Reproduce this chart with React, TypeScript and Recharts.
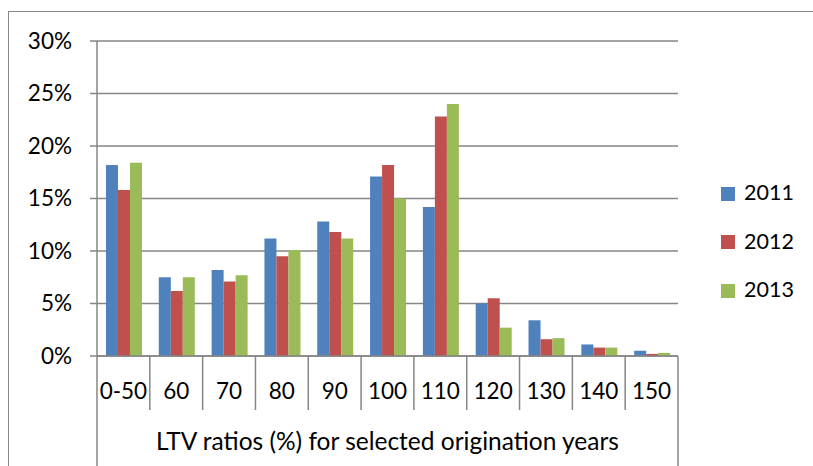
import React from 'react';
import { BarChart, Bar, XAxis, YAxis, CartesianGrid, Legend } from 'recharts';

const categories = ['0-50', '60', '70', '80', '90', '100', '110', '120', '130', '140', '150'];
const series2011 = [18.2, 7.5, 8.2, 11.2, 12.8, 17.1, 14.2, 5.0, 3.4, 1.1, 0.5];
const series2012 = [15.8, 6.2, 7.1, 9.5, 11.8, 18.2, 22.8, 5.5, 1.6, 0.8, 0.2];
const series2013 = [18.4, 7.5, 7.7, 10.1, 11.2, 15.0, 24.0, 2.7, 1.7, 0.8, 0.3];
const yTicks = [0, 5, 10, 15, 20, 25, 30];
const seriesNames = ['2011', '2012', '2013'];
const seriesKeys = ['s2011', 's2012', 's2013'];
const colors = ['#4F81BD', '#C0504D', '#9BBB59'];
const axisTitle = 'LTV ratios (%) for selected origination years';

const FONT = 'Lato, "Open Sans", sans-serif';
const GRID = '#868686';
const FS = 22.5;
const TITLE_FS = 24.5;
const LEGEND_FS = 21.5;

const data = categories.map((c, i) => ({
  cat: c,
  s2011: series2011[i],
  s2012: series2012[i],
  s2013: series2013[i],
}));

const CategoryTick = (props: any) => {
  const { x, y, payload, index } = props;
  const half = payload && typeof payload.offset === 'number' && payload.offset > 0 ? payload.offset : 26.4;
  const isFirst = index === 0;
  const isLast = index === categories.length - 1;
  return (
    <g>
      <line x1={x - half} y1={y} x2={x - half} y2={y + (isFirst ? 130 : 54)} stroke={GRID} strokeWidth={1.5} />
      {isLast && <line x1={x + half} y1={y} x2={x + half} y2={y + 130} stroke={GRID} strokeWidth={1.5} />}
      <text x={x} y={y + 43} textAnchor="middle" fill="#000" fontSize={FS} fontFamily={FONT}>
        {payload.value}
      </text>
    </g>
  );
};

const renderLegend = () => (
  <div style={{ fontFamily: FONT, fontSize: LEGEND_FS, color: '#000' }}>
    {seriesNames.map((n, i) => (
      <div key={n} style={{ display: 'flex', alignItems: 'center', height: 48.5 }}>
        <span style={{ width: 14, height: 14, background: colors[i], marginRight: 9, display: 'inline-block', marginTop: 3 }} />
        <span>{n}</span>
      </div>
    ))}
  </div>
);

export default function App() {
  return (
    <div style={{ position: 'absolute', left: 0, top: 0, width: 813, height: 466, overflow: 'hidden', background: '#fff' }}>
      <div
        style={{
          position: 'absolute',
          left: 8,
          top: 11,
          width: 900,
          height: 600,
          borderLeft: `1px solid ${GRID}`,
          borderTop: `1px solid ${GRID}`,
        }}
      />
      <div style={{ position: 'absolute', left: 0, top: 0 }}>
        <BarChart
          width={813}
          height={466}
          data={data}
          margin={{ top: 41, right: 135, bottom: 0, left: 37 }}
          barCategoryGap="17%"
          barGap={0}
        >
          <CartesianGrid vertical={false} stroke={GRID} strokeWidth={1.5} />
          <XAxis
            dataKey="cat"
            height={110}
            interval={0}
            tickLine={false}
            tickSize={0}
            tickMargin={0}
            axisLine={{ stroke: GRID, strokeWidth: 1.5 }}
            tick={<CategoryTick />}
            label={{ value: axisTitle, position: 'insideBottom', offset: 16, fill: '#000', fontSize: TITLE_FS, fontFamily: FONT }}
          />
          <YAxis
            domain={[0, 30]}
            ticks={yTicks}
            interval={0}
            width={60}
            tickSize={7}
            tickMargin={18}
            tickFormatter={(v: number) => `${v}%`}
            tick={{ fill: '#000', fontSize: FS, fontFamily: FONT }}
            tickLine={{ stroke: GRID, strokeWidth: 1.5 }}
            axisLine={{ stroke: GRID, strokeWidth: 1.5 }}
          />
          <Legend
            layout="vertical"
            align="center"
            verticalAlign="middle"
            wrapperStyle={{ left: 721, top: 168, width: 90 }}
            content={renderLegend}
          />
          {seriesKeys.map((k, i) => (
            <Bar key={k} dataKey={k} name={seriesNames[i]} fill={colors[i]} isAnimationActive={false} />
          ))}
        </BarChart>
      </div>
    </div>
  );
}
